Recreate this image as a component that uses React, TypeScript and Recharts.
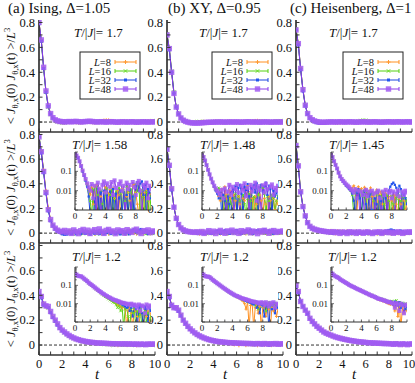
import React from 'react';
import { LineChart, Line, XAxis, YAxis, ReferenceLine, CartesianGrid } from 'recharts';

const FONT = 'Liberation Serif, DejaVu Serif, serif';

// time grid (t values)
const T_GRID = [
  0, 0.2, 0.4, 0.6, 0.8, 1, 1.2, 1.4, 1.6, 1.8,
  2, 2.2, 2.4, 2.6, 2.8, 3, 3.2, 3.4, 3.6, 3.8,
  4, 4.2, 4.4, 4.6, 4.8, 5, 5.2, 5.4, 5.6, 5.8,
  6, 6.2, 6.4, 6.6, 6.8, 7, 7.2, 7.4, 7.6, 7.8,
  8, 8.2, 8.4, 8.6, 8.8, 9, 9.2, 9.4, 9.6, 9.8,
  10,
];

const X_TICKS = [0, 1, 2, 3, 4, 5, 6, 7, 8, 9, 10];
const Y_TICKS = [0, 0.1, 0.2, 0.3, 0.4, 0.5, 0.6, 0.7, 0.8];
const LOG_TICKS = [
  0.001, 0.002, 0.003, 0.004, 0.005, 0.006, 0.007, 0.008, 0.009,
  0.01, 0.02, 0.03, 0.04, 0.05, 0.06, 0.07, 0.08, 0.09,
  0.1, 0.2, 0.3, 0.4, 0.5, 0.6, 0.7, 0.8, 0.9, 1,
];
const LOG_LABELS = [0.1, 0.01];

const TITLES = ['(a) Ising, Δ=1.05', '(b) XY, Δ=0.95', '(c) Heisenberg, Δ=1'];
const TEMPS = [
  ['1.7', '1.7', '1.7'],
  ['1.58', '1.48', '1.45'],
  ['1.2', '1.2', '1.2'],
];
const L_LABELS = ['8', '16', '32', '48'];

// ---------- Row 1: T = 1.7 ----------
const ISING_17_L8 = [
  0.80, 0.66, 0.44, 0.25, 0.13, 0.066, 0.031, 0.014, 0.006, 0.001,
  -0.003, -0.004, -0.001, 0.003, 0.004, 0.002, -0.002, -0.004, -0.003, 0.001,
  0.003, 0.002, 0.000, -0.002, -0.003, 0.000, 0.004, 0.008, 0.012, 0.014,
  0.013, 0.009, 0.004, 0.000, -0.003, -0.004, -0.002, 0.002, 0.005, 0.004,
  0.001, -0.002, -0.004, -0.003, 0.001, 0.005, 0.007, 0.008, 0.009, 0.008,
  0.006,
];
const ISING_17_L16 = [
  0.80, 0.65, 0.43, 0.24, 0.12, 0.060, 0.027, 0.011, 0.002, -0.004,
  -0.006, -0.005, -0.002, 0.002, 0.005, 0.004, 0.001, -0.003, -0.004, 0.000,
  0.004, 0.006, 0.005, 0.002, -0.002, -0.004, -0.002, 0.003, 0.006, 0.005,
  0.002, -0.002, -0.004, -0.003, 0.001, 0.004, 0.005, 0.003, -0.001, -0.003,
  -0.002, 0.002, 0.005, 0.006, 0.004, 0.000, -0.003, -0.001, 0.004, 0.008,
  0.010,
];
const ISING_17_L32 = [
  0.79, 0.65, 0.43, 0.24, 0.125, 0.064, 0.031, 0.015, 0.007, 0.002,
  -0.002, -0.004, -0.002, 0.001, 0.003, 0.002, 0.000, -0.002, -0.003, 0.001,
  0.003, 0.004, 0.002, 0.000, -0.002, -0.003, -0.001, 0.002, 0.003, 0.001,
  -0.001, -0.003, -0.002, 0.001, 0.002, 0.000, -0.002, -0.001, 0.001, 0.003,
  0.002, 0.000, -0.002, -0.003, -0.001, 0.001, 0.002, 0.000, -0.002, -0.001,
  0.000,
];
const ISING_17_L48 = [
  0.80, 0.66, 0.44, 0.25, 0.13, 0.068, 0.035, 0.018, 0.009, 0.005,
  0.003, 0.001, 0.003, 0.004, 0.002, 0.004, 0.005, 0.003, 0.001, 0.002,
  0.004, 0.005, 0.006, 0.004, 0.002, 0.001, 0.002, 0.003, 0.001, 0.000,
  0.002, 0.003, 0.002, 0.000, -0.001, 0.001, 0.002, 0.001, 0.000, 0.001,
  0.002, 0.001, -0.001, 0.000, 0.001, 0.002, 0.001, 0.000, 0.001, 0.002,
  0.001,
];

const XY_17_L8 = [
  0.70, 0.59, 0.40, 0.23, 0.12, 0.064, 0.032, 0.014, 0.004, -0.002,
  -0.005, -0.006, -0.005, -0.003, 0.000, 0.002, 0.001, -0.002, -0.003, -0.001,
  0.002, 0.003, 0.001, -0.002, -0.003, 0.000, 0.002, 0.003, 0.001, -0.001,
  -0.002, 0.000, 0.002, 0.001, -0.002, -0.001, 0.003, 0.006, 0.009, 0.010,
  0.008, 0.005, 0.002, -0.001, -0.002, 0.000, 0.002, 0.003, 0.001, -0.001,
  0.000,
];
const XY_17_L16 = [
  0.71, 0.59, 0.41, 0.24, 0.125, 0.066, 0.034, 0.016, 0.006, 0.001,
  -0.002, -0.003, -0.001, 0.002, 0.004, 0.003, 0.000, -0.003, -0.004, -0.002,
  0.001, 0.003, 0.002, -0.001, -0.003, -0.002, 0.001, 0.003, 0.002, 0.000,
  -0.002, -0.003, 0.000, 0.002, 0.003, 0.001, -0.002, -0.003, 0.000, 0.003,
  0.004, 0.002, -0.001, -0.003, -0.001, 0.002, 0.004, 0.005, 0.006, 0.008,
  0.009,
];
const XY_17_L32 = [
  0.70, 0.58, 0.40, 0.23, 0.12, 0.063, 0.031, 0.013, 0.003, -0.003,
  -0.006, -0.008, -0.009, -0.008, -0.006, -0.005, -0.003, -0.002, -0.001, 0.000,
  0.001, -0.001, -0.002, 0.000, 0.002, 0.001, -0.001, -0.002, 0.000, 0.002,
  0.001, -0.001, 0.000, 0.002, 0.001, -0.002, -0.001, 0.001, 0.002, 0.000,
  -0.002, -0.001, 0.001, 0.000, -0.001, 0.001, 0.002, 0.000, -0.002, -0.001,
  0.001,
];
const XY_17_L48 = [
  0.70, 0.59, 0.40, 0.23, 0.12, 0.065, 0.033, 0.015, 0.005, -0.001,
  -0.005, -0.007, -0.008, -0.008, -0.007, -0.006, -0.004, -0.003, -0.002, -0.002,
  -0.001, 0.000, 0.000, 0.001, 0.000, -0.001, 0.000, 0.001, 0.000, 0.000,
  0.001, 0.000, -0.001, 0.000, 0.001, 0.002, 0.001, 0.000, 0.001, 0.000,
  -0.001, 0.000, 0.001, 0.001, 0.000, -0.001, 0.000, 0.001, 0.000, 0.001,
  0.000,
];

const HEIS_17_L8 = [
  0.74, 0.63, 0.43, 0.26, 0.135, 0.066, 0.032, 0.015, 0.005, -0.001,
  -0.004, -0.005, -0.004, -0.002, 0.000, 0.001, -0.001, -0.004, -0.006, -0.005,
  -0.002, 0.001, 0.002, 0.000, -0.002, -0.003, -0.001, 0.002, 0.003, 0.001,
  -0.001, -0.002, 0.000, 0.002, 0.001, -0.001, -0.002, 0.000, 0.002, 0.001,
  -0.001, 0.000, 0.002, 0.001, -0.001, -0.002, 0.000, 0.001, 0.000, -0.001,
  0.000,
];
const HEIS_17_L16 = [
  0.75, 0.63, 0.43, 0.26, 0.135, 0.067, 0.034, 0.017, 0.007, 0.001,
  -0.003, -0.004, -0.003, -0.001, 0.001, 0.002, 0.001, -0.001, -0.002, 0.000,
  0.002, 0.003, 0.001, -0.001, -0.002, 0.000, 0.003, 0.007, 0.012, 0.015,
  0.014, 0.010, 0.005, 0.001, -0.002, -0.003, -0.001, 0.002, 0.003, 0.001,
  -0.001, -0.002, 0.000, 0.002, 0.003, 0.001, -0.001, 0.000, 0.002, 0.003,
  0.001,
];
const HEIS_17_L32 = [
  0.74, 0.62, 0.42, 0.25, 0.13, 0.063, 0.030, 0.012, 0.002, -0.005,
  -0.009, -0.010, -0.008, -0.005, -0.002, 0.000, 0.001, 0.000, -0.002, -0.003,
  -0.001, 0.001, 0.002, 0.000, -0.002, -0.001, 0.001, 0.002, 0.001, -0.001,
  -0.002, 0.000, 0.002, 0.001, -0.001, -0.002, 0.000, 0.002, 0.001, -0.001,
  0.000, 0.002, 0.001, -0.001, -0.002, 0.000, 0.001, 0.002, 0.000, -0.001,
  0.000,
];
const HEIS_17_L48 = [
  0.74, 0.63, 0.43, 0.26, 0.135, 0.068, 0.035, 0.019, 0.009, 0.003,
  0.000, -0.002, -0.002, -0.001, 0.000, 0.001, 0.001, 0.000, 0.001, 0.002,
  0.001, 0.000, 0.001, 0.002, 0.001, 0.000, -0.001, 0.000, 0.001, 0.002,
  0.001, 0.000, 0.000, 0.001, 0.002, 0.001, 0.000, -0.001, 0.000, 0.001,
  0.002, 0.001, 0.000, 0.001, 0.002, 0.001, 0.000, 0.001, 0.002, 0.001,
  0.000,
];

// ---------- Row 2: T ~ 1.5 ----------
const ISING_158_L8 = [
  0.78, 0.66, 0.51, 0.34, 0.20, 0.11, 0.062, 0.036, 0.021, 0.012,
  0.006, 0.014, 0.002, 0.016, 0.020, -0.003, 0.012, 0.005, -0.004, 0.009,
  0.015, -0.002, 0.007, 0.011, -0.005, 0.013, 0.004, -0.003, 0.010, 0.006,
  -0.004, 0.012, 0.008, -0.002, 0.005, 0.014, 0.003, -0.005, 0.017, 0.021,
  0.008, 0.002, -0.004, 0.010, 0.006, -0.003, 0.008, 0.011, -0.002, 0.004,
  0.007,
];
const ISING_158_L16 = [
  0.79, 0.66, 0.50, 0.33, 0.19, 0.105, 0.060, 0.035, 0.020, 0.010,
  0.003, -0.004, 0.012, -0.003, 0.015, 0.006, -0.005, 0.010, 0.002, -0.004,
  0.008, 0.013, -0.002, 0.006, 0.011, -0.006, 0.004, 0.009, -0.003, 0.014,
  0.007, -0.005, 0.010, 0.003, 0.016, -0.002, 0.008, 0.012, -0.004, 0.006,
  0.022, 0.009, 0.025, -0.003, 0.011, 0.005, -0.006, 0.009, 0.003, -0.002,
  0.005,
];
const ISING_158_L32 = [
  0.78, 0.65, 0.49, 0.32, 0.18, 0.10, 0.058, 0.032, 0.016, 0.005,
  -0.006, -0.010, -0.008, 0.004, -0.005, 0.012, -0.006, 0.008, -0.004, 0.010,
  -0.003, 0.006, -0.008, 0.009, -0.002, 0.012, -0.005, 0.007, -0.006, 0.004,
  0.010, -0.004, 0.008, -0.003, 0.006, -0.007, 0.011, -0.002, 0.005, -0.006,
  0.018, 0.028, 0.010, 0.024, 0.030, 0.006, 0.020, -0.004, 0.012, 0.008,
  0.004,
];
const ISING_158_L48 = [
  0.78, 0.66, 0.50, 0.33, 0.19, 0.11, 0.065, 0.040, 0.024, 0.015,
  0.010, 0.022, 0.004, 0.018, -0.002, 0.026, 0.012, -0.004, 0.020, 0.030,
  0.008, 0.024, -0.003, 0.016, 0.028, 0.006, 0.034, 0.014, -0.002, 0.022,
  0.030, 0.010, 0.018, -0.004, 0.026, 0.012, 0.020, -0.001, 0.028, 0.015,
  0.006, 0.024, 0.032, 0.010, -0.003, 0.020, 0.014, 0.026, 0.004, 0.018,
  0.012,
];

const XY_148_L8 = [
  0.68, 0.55, 0.36, 0.21, 0.12, 0.068, 0.040, 0.025, 0.016, 0.011,
  0.008, 0.005, 0.003, 0.012, -0.004, 0.016, 0.006, -0.003, 0.010, 0.004,
  -0.002, 0.006, 0.003, -0.004, 0.005, 0.002, -0.003, 0.004, 0.003, 0.012,
  0.018, -0.002, 0.009, 0.004, -0.003, 0.005, 0.002, -0.004, 0.006, 0.003,
  -0.002, 0.004, 0.002, -0.003, 0.005, 0.003, -0.002, 0.004, 0.001, 0.003,
  0.002,
];
const XY_148_L16 = [
  0.69, 0.55, 0.36, 0.21, 0.12, 0.069, 0.041, 0.026, 0.017, 0.012,
  0.010, 0.014, 0.008, 0.004, -0.002, 0.005, 0.003, -0.004, 0.006, 0.002,
  -0.003, 0.004, 0.007, -0.002, 0.005, 0.003, -0.004, 0.006, 0.002, -0.001,
  0.004, 0.007, 0.003, -0.002, 0.005, 0.004, -0.003, 0.006, 0.012, 0.018,
  0.014, 0.007, -0.002, 0.005, 0.003, -0.004, 0.006, 0.004, -0.001, 0.003,
  0.005,
];
const XY_148_L32 = [
  0.68, 0.54, 0.35, 0.21, 0.115, 0.067, 0.040, 0.025, 0.016, 0.010,
  0.007, 0.004, 0.008, -0.002, 0.006, 0.003, -0.004, 0.005, 0.002, -0.003,
  0.004, 0.012, 0.018, -0.002, 0.014, 0.020, 0.007, -0.003, 0.016, 0.011,
  0.022, 0.005, -0.002, 0.013, 0.019, 0.008, 0.024, -0.004, 0.015, 0.020,
  0.009, 0.017, 0.026, 0.006, 0.018, 0.012, -0.003, 0.010, 0.005, 0.008,
  0.004,
];
const XY_148_L48 = [
  0.68, 0.55, 0.36, 0.21, 0.12, 0.070, 0.042, 0.027, 0.018, 0.013,
  0.010, 0.008, 0.006, 0.011, 0.004, 0.013, -0.002, 0.009, 0.020, 0.006,
  0.016, -0.003, 0.012, 0.022, 0.008, -0.001, 0.018, 0.010, 0.024, 0.005,
  0.014, -0.002, 0.020, 0.009, 0.015, 0.026, 0.003, 0.017, 0.011, -0.004,
  0.019, 0.008, 0.023, 0.012, -0.001, 0.016, 0.021, 0.006, 0.014, 0.010,
  0.018,
];

const HEIS_145_L8 = [
  0.71, 0.55, 0.34, 0.22, 0.14, 0.085, 0.056, 0.041, 0.032, 0.026,
  0.020, 0.016, 0.013, 0.011, 0.014, 0.018, 0.012, -0.002, 0.016, 0.010,
  0.013, 0.006, 0.015, 0.012, -0.003, 0.009, 0.014, 0.005, -0.002, 0.008,
  0.011, -0.003, 0.006, 0.009, 0.002, -0.004, 0.007, 0.004, -0.002, 0.005,
  0.003, -0.003, 0.006, 0.002, -0.001, 0.004, 0.002, -0.003, 0.003, 0.001,
  0.002,
];
const HEIS_145_L16 = [
  0.72, 0.55, 0.34, 0.22, 0.14, 0.086, 0.056, 0.040, 0.031, 0.025,
  0.020, 0.016, 0.013, 0.010, 0.006, -0.002, 0.008, 0.011, 0.004, 0.010,
  -0.003, 0.008, 0.005, -0.002, 0.009, 0.004, -0.004, 0.007, 0.003, -0.002,
  0.006, 0.009, -0.003, 0.005, 0.008, 0.002, -0.004, 0.006, 0.003, -0.002,
  0.005, 0.002, -0.003, 0.004, 0.007, -0.001, 0.003, 0.005, -0.002, 0.004,
  0.003,
];
const HEIS_145_L32 = [
  0.71, 0.54, 0.33, 0.21, 0.135, 0.082, 0.052, 0.037, 0.029, 0.023,
  0.018, 0.015, 0.012, 0.010, 0.007, 0.003, -0.002, 0.008, 0.012, 0.004,
  -0.003, 0.006, 0.010, 0.002, -0.004, 0.005, 0.008, 0.001, -0.003, 0.004,
  0.002, -0.004, 0.005, 0.003, -0.002, 0.006, 0.004, -0.003, 0.010, 0.016,
  0.022, 0.026, 0.020, 0.014, 0.008, 0.018, 0.012, -0.002, 0.006, 0.004,
  0.002,
];
const HEIS_145_L48 = [
  0.71, 0.545, 0.335, 0.215, 0.14, 0.085, 0.055, 0.040, 0.032, 0.026,
  0.021, 0.018, 0.015, 0.012, 0.010, 0.008, 0.012, 0.004, 0.010, -0.002,
  0.009, 0.006, -0.003, 0.011, 0.005, 0.009, -0.002, 0.010, 0.007, -0.001,
  0.008, 0.010, 0.004, -0.003, 0.009, 0.006, 0.011, -0.002, 0.008, 0.010,
  0.004, 0.009, -0.001, 0.007, 0.010, 0.005, -0.002, 0.009, 0.006, 0.010,
  0.008,
];

// ---------- Row 3: T = 1.2 ----------
const ISING_12_L8 = [
  0.43, 0.39, 0.33, 0.31, 0.30, 0.265, 0.228, 0.197, 0.168, 0.139,
  0.118, 0.102, 0.087, 0.074, 0.063, 0.054, 0.046, 0.040, 0.034, 0.030,
  0.026, 0.022, 0.019, 0.017, 0.015, 0.013, 0.012, 0.010, 0.009, 0.008,
  0.007, 0.006, 0.007, 0.005, -0.002, 0.004, 0.006, 0.003, -0.001, 0.005,
  0.004, 0.002, -0.002, 0.004, 0.003, -0.001, 0.003, 0.002, 0.004, 0.001,
  0.003,
];
const ISING_12_L16 = [
  0.43, 0.39, 0.33, 0.31, 0.30, 0.265, 0.225, 0.195, 0.165, 0.137,
  0.117, 0.10, 0.085, 0.072, 0.062, 0.053, 0.045, 0.038, 0.033, 0.028,
  0.024, 0.021, 0.018, 0.016, 0.014, 0.012, 0.011, 0.009, 0.006, 0.008,
  0.004, 0.007, -0.001, 0.005, 0.006, 0.002, -0.002, 0.005, 0.003, 0.006,
  -0.001, 0.004, 0.002, 0.005, -0.002, 0.003, 0.004, 0.001, 0.003, -0.001,
  0.002,
];
const ISING_12_L32 = [
  0.42, 0.38, 0.32, 0.31, 0.30, 0.26, 0.22, 0.19, 0.16, 0.135,
  0.115, 0.10, 0.086, 0.074, 0.064, 0.055, 0.047, 0.041, 0.036, 0.032,
  0.028, 0.025, 0.022, 0.020, 0.018, 0.016, 0.015, 0.014, 0.012, 0.011,
  0.010, 0.009, 0.008, 0.007, 0.006, 0.007, 0.004, 0.006, 0.002, 0.007,
  0.005, -0.001, 0.006, 0.008, 0.003, -0.002, 0.007, 0.005, 0.001, 0.006,
  0.004,
];
const ISING_12_L48 = [
  0.43, 0.39, 0.33, 0.315, 0.31, 0.27, 0.23, 0.20, 0.17, 0.14,
  0.12, 0.105, 0.090, 0.077, 0.066, 0.057, 0.049, 0.043, 0.037, 0.033,
  0.029, 0.026, 0.023, 0.021, 0.019, 0.017, 0.016, 0.015, 0.014, 0.013,
  0.012, 0.011, 0.011, 0.010, 0.010, 0.009, 0.009, 0.010, 0.008, 0.009,
  0.008, 0.006, 0.009, 0.004, 0.008, 0.007, 0.003, 0.009, 0.006, 0.008,
  0.007,
];

const XY_12_L8 = [
  0.43, 0.39, 0.32, 0.30, 0.30, 0.28, 0.24, 0.20, 0.173, 0.148,
  0.127, 0.110, 0.095, 0.083, 0.072, 0.063, 0.055, 0.048, 0.042, 0.037,
  0.033, 0.029, 0.026, 0.023, 0.021, 0.019, 0.016, 0.014, 0.010, 0.005,
  0.012, -0.002, 0.008, 0.010, -0.001, 0.006, 0.009, 0.003, 0.007, -0.002,
  0.006, 0.008, 0.002, 0.007, 0.005, -0.001, 0.006, 0.004, 0.007, 0.002,
  0.005,
];
const XY_12_L16 = [
  0.43, 0.39, 0.32, 0.30, 0.30, 0.28, 0.24, 0.20, 0.172, 0.148,
  0.128, 0.112, 0.097, 0.085, 0.074, 0.064, 0.056, 0.049, 0.043, 0.038,
  0.034, 0.030, 0.027, 0.025, 0.023, 0.021, 0.019, 0.018, 0.016, 0.015,
  0.014, 0.013, 0.012, 0.011, 0.010, 0.008, 0.011, 0.005, 0.009, 0.010,
  0.007, 0.011, 0.004, 0.009, 0.012, 0.006, 0.010, 0.008, 0.011, 0.007,
  0.009,
];
const XY_12_L32 = [
  0.42, 0.38, 0.32, 0.30, 0.29, 0.27, 0.235, 0.20, 0.17, 0.145,
  0.125, 0.11, 0.095, 0.083, 0.072, 0.063, 0.055, 0.048, 0.042, 0.037,
  0.033, 0.029, 0.026, 0.024, 0.022, 0.020, 0.018, 0.017, 0.015, 0.014,
  0.013, 0.012, 0.011, 0.010, 0.009, 0.011, 0.006, 0.010, 0.003, 0.009,
  0.008, 0.002, 0.010, 0.007, -0.001, 0.009, 0.005, 0.011, 0.003, 0.008,
  0.006,
];
const XY_12_L48 = [
  0.43, 0.39, 0.32, 0.30, 0.30, 0.28, 0.24, 0.20, 0.175, 0.15,
  0.13, 0.113, 0.098, 0.085, 0.074, 0.065, 0.057, 0.050, 0.044, 0.039,
  0.035, 0.031, 0.028, 0.026, 0.024, 0.022, 0.020, 0.019, 0.018, 0.017,
  0.016, 0.015, 0.014, 0.013, 0.013, 0.012, 0.012, 0.011, 0.010, 0.012,
  0.011, 0.008, 0.012, 0.010, 0.007, 0.011, 0.009, 0.012, 0.006, 0.010,
  0.009,
];

const HEIS_12_L8 = [
  0.48, 0.43, 0.35, 0.31, 0.28, 0.254, 0.214, 0.19, 0.169, 0.149,
  0.134, 0.119, 0.105, 0.095, 0.086, 0.078, 0.071, 0.064, 0.058, 0.053,
  0.048, 0.044, 0.040, 0.036, 0.033, 0.030, 0.027, 0.025, 0.023, 0.021,
  0.019, 0.017, 0.016, 0.015, 0.014, 0.013, 0.012, 0.011, 0.010, 0.009,
  0.011, 0.008, 0.004, 0.010, 0.002, 0.007, -0.001, 0.006, 0.003, 0.005,
  0.004,
];
const HEIS_12_L16 = [
  0.48, 0.43, 0.35, 0.31, 0.28, 0.255, 0.216, 0.19, 0.17, 0.15,
  0.136, 0.121, 0.107, 0.097, 0.089, 0.081, 0.073, 0.066, 0.061, 0.056,
  0.051, 0.047, 0.043, 0.039, 0.036, 0.033, 0.030, 0.028, 0.026, 0.024,
  0.022, 0.020, 0.019, 0.018, 0.017, 0.016, 0.015, 0.014, 0.013, 0.012,
  0.014, 0.011, 0.013, 0.015, 0.010, 0.012, 0.008, 0.011, 0.009, 0.010,
  0.008,
];
const HEIS_12_L32 = [
  0.47, 0.42, 0.35, 0.31, 0.28, 0.25, 0.21, 0.186, 0.167, 0.148,
  0.133, 0.118, 0.104, 0.094, 0.086, 0.078, 0.070, 0.064, 0.058, 0.053,
  0.048, 0.044, 0.040, 0.037, 0.034, 0.031, 0.028, 0.026, 0.024, 0.022,
  0.020, 0.018, 0.017, 0.016, 0.015, 0.014, 0.013, 0.012, 0.011, 0.013,
  0.012, 0.009, 0.013, 0.011, 0.008, 0.012, 0.006, 0.010, 0.008, 0.005,
  0.007,
];
const HEIS_12_L48 = [
  0.48, 0.43, 0.35, 0.31, 0.28, 0.255, 0.215, 0.19, 0.17, 0.15,
  0.135, 0.12, 0.105, 0.095, 0.087, 0.080, 0.072, 0.065, 0.060, 0.055,
  0.050, 0.046, 0.042, 0.038, 0.035, 0.032, 0.029, 0.027, 0.025, 0.023,
  0.021, 0.019, 0.018, 0.017, 0.016, 0.015, 0.014, 0.013, 0.012, 0.012,
  0.011, 0.010, 0.006, 0.011, 0.009, 0.004, 0.010, 0.008, 0.003, 0.009,
  0.008,
];

const PANEL_SERIES = [
  [
    [ISING_17_L8, ISING_17_L16, ISING_17_L32, ISING_17_L48],
    [XY_17_L8, XY_17_L16, XY_17_L32, XY_17_L48],
    [HEIS_17_L8, HEIS_17_L16, HEIS_17_L32, HEIS_17_L48],
  ],
  [
    [ISING_158_L8, ISING_158_L16, ISING_158_L32, ISING_158_L48],
    [XY_148_L8, XY_148_L16, XY_148_L32, XY_148_L48],
    [HEIS_145_L8, HEIS_145_L16, HEIS_145_L32, HEIS_145_L48],
  ],
  [
    [ISING_12_L8, ISING_12_L16, ISING_12_L32, ISING_12_L48],
    [XY_12_L8, XY_12_L16, XY_12_L32, XY_12_L48],
    [HEIS_12_L8, HEIS_12_L16, HEIS_12_L32, HEIS_12_L48],
  ],
];

// ---------- styling / layout ----------
const COLORS = ['#ff9a33', '#66dd22', '#2255ee', '#a25cf2'];
const LINE_COLORS = ['#ff9020', '#55d010', '#1a44e0', '#8a3ae8'];
const SHAPES = ['plus', 'cross', 'sq', 'bigsq'];

const COL_X = [39, 167, 296];
const PANEL_W = 116;
const ROWS = [
  { top: 20, h: 112 },
  { top: 132, h: 111 },
  { top: 243, h: 112 },
];
const INSET_X = [75, 202, 331];
const INSETS = [null, { top: 152, h: 58 }, { top: 267, h: 55 }];
const INSET_W = 76;
const AXIS_COLOR = '#333';
const FRAME_W = 1.7;

const toPoints = (arr: number[]) => arr.map((v, i) => ({ t: T_GRID[i], v }));
const toLogPoints = (arr: number[]) => arr.map((v, i) => ({ t: T_GRID[i], v: Math.max(v, 0.0005) }));

function Marker({ cx, cy, kind, color, scale = 1 }: any) {
  if (cx == null || cy == null || isNaN(cx) || isNaN(cy)) return null;
  const s = scale;
  if (kind === 'plus')
    return <path d={`M${cx - 2 * s},${cy}H${cx + 2 * s}M${cx},${cy - 2 * s}V${cy + 2 * s}`} stroke={color} strokeWidth={1} />;
  if (kind === 'cross')
    return (
      <path
        d={`M${cx - 1.7 * s},${cy - 1.7 * s}L${cx + 1.7 * s},${cy + 1.7 * s}M${cx - 1.7 * s},${cy + 1.7 * s}L${cx + 1.7 * s},${cy - 1.7 * s}`}
        stroke={color}
        strokeWidth={1}
      />
    );
  if (kind === 'sq') return <rect x={cx - 1.5 * s} y={cy - 1.5 * s} width={3 * s} height={3 * s} fill={color} />;
  return <rect x={cx - 2.7 * s} y={cy - 2.7 * s} width={5.4 * s} height={5.4 * s} fill={color} fillOpacity={0.85} />;
}

const fmtY = (v: number) => (Math.abs(v) < 1e-9 ? '0' : String(Math.round(v * 10) / 10));
const TXT = { fontFamily: FONT };

function MainPanel({ row, col }: { row: number; col: number }) {
  const { top, h } = ROWS[row];
  const PL = 40;
  const PT = 10;
  const W = PL + PANEL_W + 6;
  const H = PT + h + 22;
  const PR = PL + PANEL_W;
  const PB = PT + h;
  const series = PANEL_SERIES[row][col];
  return (
    <div style={{ position: 'absolute', left: COL_X[col] - PL, top: top - PT }}>
      <LineChart width={W} height={H} margin={{ top: PT, right: 6, bottom: 0, left: 0 }}>
        <XAxis
          xAxisId="b"
          dataKey="t"
          type="number"
          domain={[0, 10]}
          allowDataOverflow
          ticks={X_TICKS}
          interval={0}
          height={22}
          tickLine={false}
          axisLine={{ stroke: AXIS_COLOR, strokeWidth: FRAME_W }}
          tick={(p: any) => (
            <g key={`xb${p.index}`}>
              <line x1={p.x} x2={p.x} y1={PB} y2={PB - 3.5} stroke={AXIS_COLOR} strokeWidth={1} />
              {row === 2 && p.payload.value % 2 === 0 ? (
                <text
                  x={col === 2 && p.payload.value === 10 ? p.x - 3 : p.x}
                  y={PB + 13}
                  textAnchor="middle"
                  style={TXT}
                  fontSize={12.5}
                  fill="#111"
                >
                  {p.payload.value}
                </text>
              ) : null}
            </g>
          )}
        />
        <XAxis
          xAxisId="t"
          orientation="top"
          type="number"
          domain={[0, 10]}
          allowDataOverflow
          ticks={X_TICKS}
          interval={0}
          height={0}
          tickLine={false}
          axisLine={{ stroke: AXIS_COLOR, strokeWidth: FRAME_W }}
          tick={(p: any) => (
            <line key={`xt${p.index}`} x1={p.x} x2={p.x} y1={PT} y2={PT + 3.5} stroke={AXIS_COLOR} strokeWidth={1} />
          )}
        />
        <YAxis
          yAxisId="l"
          type="number"
          domain={[-0.08, 0.82]}
          allowDataOverflow
          ticks={Y_TICKS}
          interval={0}
          width={PL}
          tickLine={false}
          axisLine={{ stroke: AXIS_COLOR, strokeWidth: FRAME_W }}
          tick={(p: any) => {
            const v = p.payload.value;
            const major = Math.round(v * 10) % 2 === 0;
            return (
              <g key={`yl${p.index}`}>
                <line x1={PL} x2={PL + 3.5} y1={p.y} y2={p.y} stroke={AXIS_COLOR} strokeWidth={1} />
                {major ? (
                  <text x={PL - 4} y={p.y + 4.3} textAnchor="end" style={TXT} fontSize={12.5} fill="#111">
                    {fmtY(v)}
                  </text>
                ) : null}
              </g>
            );
          }}
        />
        <YAxis
          yAxisId="r"
          orientation="right"
          type="number"
          domain={[-0.08, 0.82]}
          allowDataOverflow
          ticks={Y_TICKS}
          interval={0}
          width={0}
          tickLine={false}
          axisLine={{ stroke: AXIS_COLOR, strokeWidth: FRAME_W }}
          tick={(p: any) => (
            <line key={`yr${p.index}`} x1={PR - 3.5} x2={PR} y1={p.y} y2={p.y} stroke={AXIS_COLOR} strokeWidth={1} />
          )}
        />
        <ReferenceLine xAxisId="b" yAxisId="l" y={0} stroke="#333" strokeDasharray="3 2" strokeWidth={1} />
        {series.map((arr, k) => (
          <Line
            key={k}
            xAxisId="b"
            yAxisId="l"
            data={toPoints(arr)}
            dataKey="v"
            type="linear"
            stroke={LINE_COLORS[k]}
            strokeWidth={1}
            isAnimationActive={false}
            dot={(p: any) => (
              <g key={`d${k}-${p.index}`}>
                <Marker cx={p.cx} cy={p.cy} kind={SHAPES[k]} color={COLORS[k]} />
              </g>
            )}
            activeDot={false}
          />
        ))}
      </LineChart>
    </div>
  );
}

function InsetPanel({ row, col }: { row: number; col: number }) {
  const ins = INSETS[row]!;
  const PL = 22;
  const PT = 3;
  const ih = ins.h;
  const W = PL + INSET_W + 3;
  const H = PT + ih + 12;
  const PR = PL + INSET_W;
  const PB = PT + ih;
  const series = PANEL_SERIES[row][col];
  return (
    <div style={{ position: 'absolute', left: INSET_X[col] - PL, top: ins.top - PT }}>
      <LineChart width={W} height={H} margin={{ top: PT, right: 3, bottom: 0, left: 0 }}>
        <CartesianGrid xAxisId="b" yAxisId="l" horizontal={false} vertical={false} fill="#fff" stroke="none" />
        <XAxis
          xAxisId="b"
          dataKey="t"
          type="number"
          domain={[0, 10]}
          allowDataOverflow
          ticks={X_TICKS}
          interval={0}
          height={12}
          tickLine={false}
          axisLine={{ stroke: AXIS_COLOR, strokeWidth: 1.1 }}
          tick={(p: any) => (
            <g key={`ixb${p.index}`}>
              <line x1={p.x} x2={p.x} y1={PB} y2={PB - 2.5} stroke={AXIS_COLOR} strokeWidth={0.8} />
              {p.payload.value % 2 === 0 && p.payload.value < 10 ? (
                <text x={p.x} y={PB + 9} textAnchor="middle" style={TXT} fontSize={9} fill="#111">
                  {p.payload.value}
                </text>
              ) : null}
            </g>
          )}
        />
        <XAxis
          xAxisId="t"
          orientation="top"
          type="number"
          domain={[0, 10]}
          allowDataOverflow
          ticks={X_TICKS}
          interval={0}
          height={0}
          tickLine={false}
          axisLine={{ stroke: AXIS_COLOR, strokeWidth: 1.1 }}
          tick={(p: any) => (
            <line key={`ixt${p.index}`} x1={p.x} x2={p.x} y1={PT} y2={PT + 2.5} stroke={AXIS_COLOR} strokeWidth={0.8} />
          )}
        />
        <YAxis
          yAxisId="l"
          type="number"
          scale="log"
          domain={[0.001, 1]}
          allowDataOverflow
          ticks={LOG_TICKS}
          interval={0}
          width={PL}
          tickLine={false}
          axisLine={{ stroke: AXIS_COLOR, strokeWidth: 1.1 }}
          tick={(p: any) => {
            const v = p.payload.value;
            const lab = LOG_LABELS.find((m) => Math.abs(m - v) < 1e-9);
            const major = !!lab || Math.abs(v - 0.001) < 1e-9 || Math.abs(v - 1) < 1e-9;
            return (
              <g key={`iyl${p.index}`}>
                <line x1={PL} x2={PL + (major ? 3 : 1.8)} y1={p.y} y2={p.y} stroke={AXIS_COLOR} strokeWidth={0.7} />
                {lab ? (
                  <text x={PL - 3} y={p.y + 3} textAnchor="end" style={TXT} fontSize={9} fill="#111">
                    {String(lab)}
                  </text>
                ) : null}
              </g>
            );
          }}
        />
        <YAxis
          yAxisId="r"
          orientation="right"
          type="number"
          scale="log"
          domain={[0.001, 1]}
          allowDataOverflow
          ticks={LOG_TICKS}
          interval={0}
          width={0}
          tickLine={false}
          axisLine={{ stroke: AXIS_COLOR, strokeWidth: 1.1 }}
          tick={(p: any) => (
            <line key={`iyr${p.index}`} x1={PR - 2} x2={PR} y1={p.y} y2={p.y} stroke={AXIS_COLOR} strokeWidth={0.7} />
          )}
        />
        {series.map((arr, k) => (
          <Line
            key={k}
            xAxisId="b"
            yAxisId="l"
            data={toLogPoints(arr)}
            dataKey="v"
            type="linear"
            stroke={LINE_COLORS[k]}
            strokeWidth={1}
            isAnimationActive={false}
            dot={(p: any) => (
              <g key={`id${k}-${p.index}`}>
                <Marker cx={p.cx} cy={p.cy} kind={SHAPES[k]} color={COLORS[k]} scale={0.75} />
              </g>
            )}
            activeDot={false}
          />
        ))}
      </LineChart>
    </div>
  );
}

function YLabel({ cy }: { cy: number }) {
  return (
    <text transform={`translate(15,${cy}) rotate(-90)`} textAnchor="middle" style={TXT} fontSize={12.5} fill="#111">
      <tspan>{'< '}</tspan>
      <tspan fontStyle="italic">J</tspan>
      <tspan fontSize={8.5} dy={3}>
        θ,x
      </tspan>
      <tspan dy={-3}>(0) </tspan>
      <tspan fontStyle="italic">J</tspan>
      <tspan fontSize={8.5} dy={3}>
        θ,x
      </tspan>
      <tspan dy={-3}>{'(t) >/'}</tspan>
      <tspan fontStyle="italic">L</tspan>
      <tspan fontSize={8.5} dy={-5}>
        3
      </tspan>
    </text>
  );
}

const TEMP_POS = [
  [[74, 37], [199, 37], [329, 37]],
  [[72, 149], [200, 149], [329, 149]],
  [[72, 261], [200, 261], [328, 261]],
];
const TITLE_X = [8, 168, 290];
const LEGEND_X = [80, 212, 343];

function LegendBox({ x }: { x: number }) {
  return (
    <g>
      <rect x={x} y={52} width={60} height={47} fill="#fff" stroke="#222" strokeWidth={1} />
      {L_LABELS.map((lab, i) => {
        const cy = 62 + i * 9;
        return (
          <g key={lab}>
            <text x={x + 31} y={cy + 3.5} textAnchor="end" style={TXT} fontSize={10.5} fill="#111">
              <tspan fontStyle="italic">L</tspan>={lab}
            </text>
            <line x1={x + 35} x2={x + 56} y1={cy} y2={cy} stroke={LINE_COLORS[i]} strokeWidth={1} />
            <line x1={x + 35} x2={x + 35} y1={cy - 2} y2={cy + 2} stroke={LINE_COLORS[i]} strokeWidth={1} />
            <line x1={x + 56} x2={x + 56} y1={cy - 2} y2={cy + 2} stroke={LINE_COLORS[i]} strokeWidth={1} />
            <Marker cx={x + 45.5} cy={cy} kind={SHAPES[i]} color={COLORS[i]} />
          </g>
        );
      })}
    </g>
  );
}

export default function App() {
  return (
    <div style={{ position: 'absolute', left: 0, top: 0, width: 415, height: 383, background: '#fff', overflow: 'hidden' }}>
      {[0, 1, 2].map((row) =>
        [0, 1, 2].map((col) => <MainPanel key={`m${row}${col}`} row={row} col={col} />)
      )}
      {[1, 2].map((row) => [0, 1, 2].map((col) => <InsetPanel key={`i${row}${col}`} row={row} col={col} />))}
      <svg width={415} height={383} style={{ position: 'absolute', left: 0, top: 0, pointerEvents: 'none' }}>
        {TITLES.map((t, i) => (
          <text key={t} x={TITLE_X[i]} y={13} style={TXT} fontSize={15} fill="#111">
            {t}
          </text>
        ))}
        {TEMPS.map((r, ri) =>
          r.map((tv, ci) => (
            <text key={`T${ri}${ci}`} x={TEMP_POS[ri][ci][0]} y={TEMP_POS[ri][ci][1]} style={TXT} fontSize={13} fill="#111">
              <tspan fontStyle="italic">T</tspan>/|<tspan fontStyle="italic">J</tspan>|= {tv}
            </text>
          ))
        )}
        {LEGEND_X.map((x) => (
          <LegendBox key={x} x={x} />
        ))}
        {ROWS.map((r, i) => (
          <YLabel key={i} cy={r.top + r.h / 2} />
        ))}
        {COL_X.map((x) => (
          <text key={x} x={x + PANEL_W / 2} y={379} textAnchor="middle" style={TXT} fontSize={15} fontStyle="italic" fill="#111">
            t
          </text>
        ))}
      </svg>
    </div>
  );
}
